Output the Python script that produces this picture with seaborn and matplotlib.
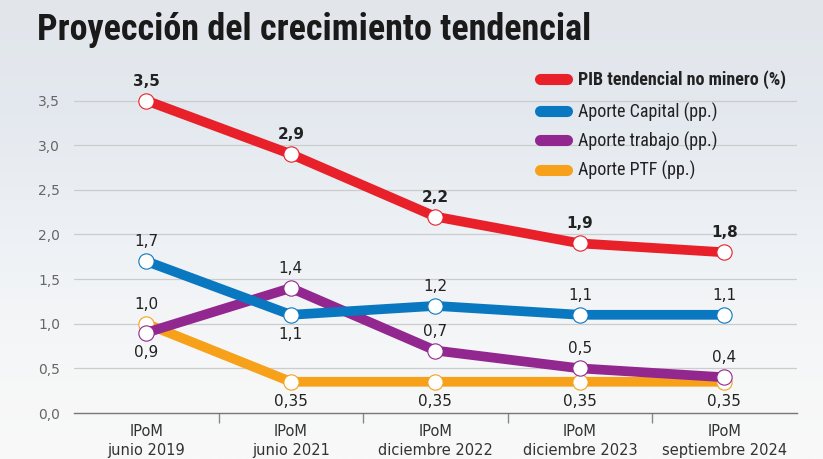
import matplotlib
matplotlib.use("Agg")
import matplotlib.pyplot as plt
from matplotlib.lines import Line2D
import numpy as np
import pandas as pd
import seaborn as sns

sns.set_theme(style="white")
plt.rcParams["font.family"] = ["DejaVu Sans"]
COND = ["Roboto Condensed", "DejaVu Sans"]

CATEGORIES = ["IPoM\njunio 2019", "IPoM\njunio 2021", "IPoM\ndiciembre 2022",
              "IPoM\ndiciembre 2023", "IPoM\nseptiembre 2024"]
PIB = [3.5, 2.9, 2.2, 1.9, 1.8]
CAPITAL = [1.7, 1.1, 1.2, 1.1, 1.1]
TRABAJO = [0.9, 1.4, 0.7, 0.5, 0.4]
PTF = [1.0, 0.35, 0.35, 0.35, 0.35]

PIB_LABELS = ["3,5", "2,9", "2,2", "1,9", "1,8"]
CAPITAL_LABELS = ["1,7", "1,1", "1,2", "1,1", "1,1"]
TRABAJO_LABELS = ["0,9", "1,4", "0,7", "0,5", "0,4"]
PTF_LABELS = ["1,0", "0,35", "0,35", "0,35", "0,35"]

# +1 = label above the point, -1 = below
CAPITAL_SIDE = [1, -1, 1, 1, 1]
TRABAJO_SIDE = [-1, 1, 1, 1, 1]
PTF_SIDE = [1, -1, -1, -1, -1]

YTICKS = [0.0, 0.5, 1.0, 1.5, 2.0, 2.5, 3.0, 3.5]
YTICK_LABELS = ["0,0", "0,5", "1,0", "1,5", "2,0", "2,5", "3,0", "3,5"]

RED = "#e8202a"
BLUE = "#0a78c0"
PURPLE = "#92278f"
ORANGE = "#f7a11a"

series = [  # drawing order: bottom first
    ("Aporte PTF (pp.)", PTF, PTF_LABELS, PTF_SIDE, ORANGE, False),
    ("Aporte trabajo (pp.)", TRABAJO, TRABAJO_LABELS, TRABAJO_SIDE, PURPLE, False),
    ("Aporte Capital (pp.)", CAPITAL, CAPITAL_LABELS, CAPITAL_SIDE, BLUE, False),
    ("PIB tendencial no minero (%)", PIB, PIB_LABELS, [1] * 5, RED, True),
]

fig = plt.figure(figsize=(8.23, 4.59), dpi=100)

# background gradient
bg = fig.add_axes([0, 0, 1, 1], zorder=-10)
grad = np.linspace(0, 1, 256).reshape(-1, 1)
cmap = matplotlib.colors.LinearSegmentedColormap.from_list(
    "bg", ["#f9f9f9", "#f5f6f7", "#edf1f5", "#e4e9ef", "#e2e6eb"])
bg.imshow(grad, aspect="auto", cmap=cmap, origin="lower", extent=[0, 1, 0, 1])
bg.axis("off")

ax = fig.add_axes([0.09, 0.1002, 0.878, 0.778])
ax.patch.set_alpha(0)

for name, vals, labels, sides, color, bold in series:
    df = pd.DataFrame({"x": CATEGORIES, "y": vals})
    sns.lineplot(data=df, x="x", y="y", ax=ax, color=color, linewidth=7,
                 marker="o", markersize=11, markerfacecolor="white",
                 markeredgecolor=color, markeredgewidth=0.8,
                 solid_capstyle="round", sort=False, legend=False)
    for i, (v, lab, s) in enumerate(zip(vals, labels, sides)):
        ax.annotate(lab, (i, v), xytext=(0, 14 * s), textcoords="offset points",
                    ha="center", va="center", fontsize=11, color="#222222",
                    fontweight="bold" if bold else "normal", zorder=5)

ax.set_xlim(-0.5, 4.5)
ax.set_ylim(0, 4.0)
ax.set_yticks(YTICKS)
ax.set_yticklabels(YTICK_LABELS, color="#666666", fontsize=10)
ax.set_xticks(range(5))
ax.set_xticklabels(CATEGORIES, fontsize=10.5, color="#333333", linespacing=1.35)
ax.set_xticks([0.5, 1.5, 2.5, 3.5], minor=True)
ax.tick_params(axis="x", which="major", length=0, pad=8)
ax.tick_params(axis="x", which="minor", length=7, color="#888888", width=1,
               direction="out", bottom=True)
ax.tick_params(axis="y", length=0, pad=10)
ax.set_xlabel("")
ax.set_ylabel("")
for y in YTICKS[1:]:
    ax.axhline(y, color="#cccccc", linewidth=0.9, zorder=0)
for sp in ["top", "right", "left"]:
    ax.spines[sp].set_visible(False)
ax.spines["bottom"].set_color("#777777")
ax.spines["bottom"].set_linewidth(1)

ordered = series[::-1]
handles = [Line2D([0], [0], color=s[4], linewidth=8, solid_capstyle="round")
           for s in ordered]
names = [s[0] for s in ordered]
leg_kw = dict(loc="upper left", frameon=False, handlelength=1.5,
              handletextpad=0.6, labelspacing=0.56, borderpad=0,
              borderaxespad=0, prop={"family": COND, "size": 13})
leg1 = fig.legend(handles[:1], names[:1], bbox_to_anchor=(0.656, 0.847), **leg_kw)
leg1.get_texts()[0].set_fontweight("bold")
leg2 = fig.legend(handles[1:], names[1:], bbox_to_anchor=(0.656, 0.777), **leg_kw)
for leg in (leg1, leg2):
    for t in leg.get_texts():
        t.set_color("#222222")

fig.text(0.045, 0.935, "Proyección del crecimiento tendencial",
         family=COND, fontweight="bold",
         fontsize=26, color="#1a1a1a", va="center", ha="left")

fig.savefig("out.png", dpi=100)
